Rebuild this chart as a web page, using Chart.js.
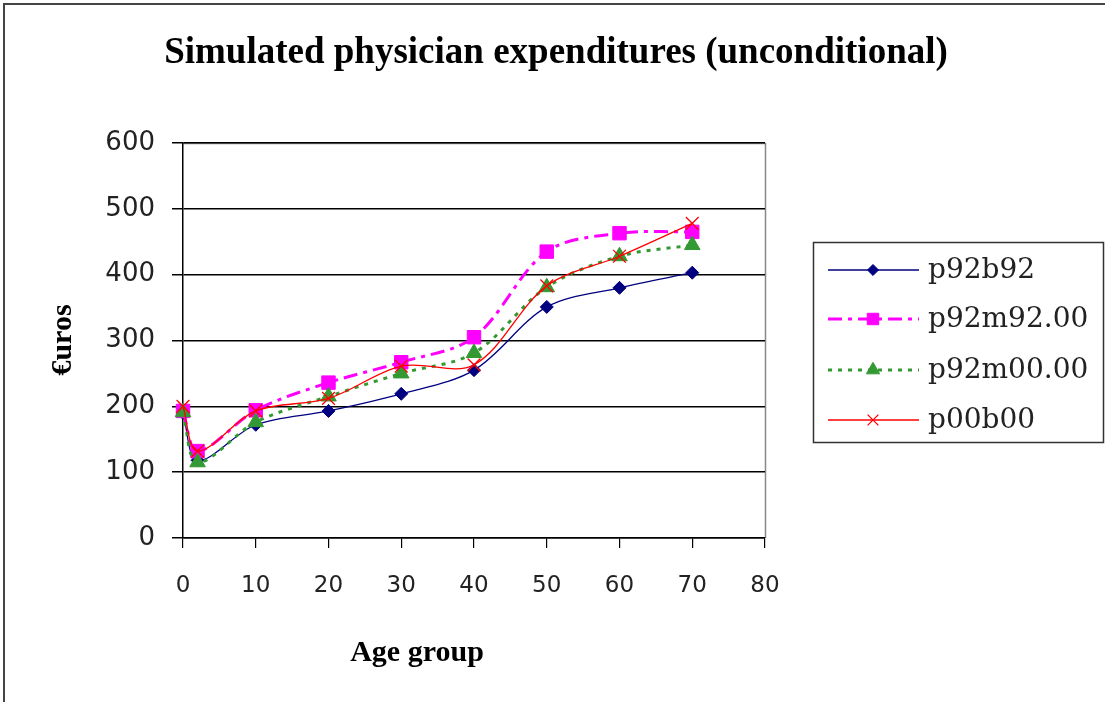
<!DOCTYPE html>
<html>
<head>
<meta charset="utf-8">
<script src="https://cdn.jsdelivr.net/npm/chart.js@4.4.1/dist/chart.umd.min.js"></script>
<style>
  html, body { margin: 0; padding: 0; background: #fff; }
  #wrap { width: 1105px; height: 702px; position: relative; }
</style>
</head>
<body>
<div id="wrap"><canvas id="c" width="1105" height="702"></canvas></div>
<script>
const ageGroups = [0, 2, 10, 20, 30, 40, 50, 60, 70];
const p92b92   = [190, 118, 172, 193, 219, 255, 351, 380, 403];
const p92m9200 = [193, 132, 194, 236, 267, 305, 435, 463, 465];
const p92m0000 = [191, 115, 176, 215, 250, 281, 381, 428, 445];
const p00b00   = [200, 132, 193, 212, 261, 263, 383, 428, 478];
const yTicks = [0, 100, 200, 300, 400, 500, 600];
const xTicks = [0, 10, 20, 30, 40, 50, 60, 70, 80];

const chartTitle = 'Simulated physician expenditures (unconditional)';
const xTitle = 'Age group';
const yTitle = '€uros';

function pts(vals) { return vals.map((v, i) => ({ x: ageGroups[i], y: v })); }

const series = [
  { label: 'p92b92',    data: p92b92,   color: '#000080', dash: [],            width: 1.3, style: 'rectRot',  radius: 6.5, order: 4 },
  { label: 'p92m92.00', data: p92m9200, color: '#FF00FF', dash: [14, 6, 4, 6], width: 3,   style: 'rect',     radius: 9.5, order: 3 },
  { label: 'p92m00.00', data: p92m0000, color: '#339933', dash: [4, 6],        width: 3,   style: 'triangle', radius: 9,   order: 2 },
  { label: 'p00b00',    data: p00b00,   color: '#FF0000', dash: [],            width: 1.3, style: 'crossRot', radius: 9,   order: 1 }
];

const decor = {
  id: 'decor',
  beforeDraw(chart) {
    const ctx = chart.ctx;
    ctx.save();
    ctx.fillStyle = '#fff';
    ctx.fillRect(0, 0, chart.width, chart.height);
    ctx.strokeStyle = '#444';
    ctx.lineWidth = 2;
    ctx.beginPath();
    ctx.moveTo(4, chart.height);
    ctx.lineTo(4, 4);
    ctx.lineTo(chart.width, 4);
    ctx.stroke();
    const a = chart.chartArea;
    ctx.strokeStyle = '#888';
    ctx.lineWidth = 1.5;
    ctx.beginPath();
    ctx.moveTo(a.left, a.top + 0.5);
    ctx.lineTo(a.right + 0.5, a.top + 0.5);
    ctx.lineTo(a.right + 0.5, a.bottom);
    ctx.stroke();
    ctx.restore();
  },
  afterDraw(chart) {
    const ctx = chart.ctx;
    ctx.save();
    ctx.fillStyle = '#000';
    ctx.textAlign = 'center';
    ctx.textBaseline = 'alphabetic';
    ctx.font = 'bold 37px "Liberation Serif"';
    ctx.fillText(chartTitle, 556, 63);
    ctx.font = 'bold 30px "Liberation Serif"';
    ctx.fillText(xTitle, 417, 661);
    ctx.save();
    ctx.translate(71, 340);
    ctx.rotate(-Math.PI / 2);
    ctx.fillText(yTitle, 0, 0);
    ctx.restore();

    // legend
    const bx = 813.5, by = 242.5, bw = 290, bh = 200;
    ctx.strokeStyle = '#333';
    ctx.lineWidth = 1.5;
    ctx.strokeRect(bx, by, bw, bh);
    const rows = [270, 319, 370, 420];
    ctx.textAlign = 'left';
    ctx.textBaseline = 'middle';
    ctx.font = '28px "DejaVu Serif"';
    series.forEach((s, i) => {
      const y = rows[i];
      ctx.save();
      ctx.strokeStyle = s.color;
      ctx.lineWidth = s.width;
      ctx.setLineDash(s.dash);
      ctx.beginPath();
      ctx.moveTo(828, y);
      ctx.lineTo(919, y);
      ctx.stroke();
      ctx.setLineDash([]);
      ctx.fillStyle = s.color; ctx.strokeStyle = s.color;
      ctx.lineWidth = s.style === 'crossRot' ? 1.3 : 1;
      Chart.helpers.drawPoint(ctx, { pointStyle: s.style, radius: s.radius * 0.85, rotation: 0, borderWidth: ctx.lineWidth }, 873, y);
      ctx.restore();
      ctx.fillStyle = '#222';
      ctx.fillText(s.label, 928, y + 1);
    });
    ctx.restore();
  }
};

new Chart(document.getElementById('c'), {
  type: 'line',
  data: {
    datasets: series.map(s => ({
      label: s.label,
      data: pts(s.data),
      borderColor: s.color,
      backgroundColor: s.color,
      borderWidth: s.width,
      borderDash: s.dash,
      pointStyle: s.style,
      pointRadius: s.radius,
      pointBorderWidth: s.style === 'crossRot' ? 1.3 : 1,
      pointBorderColor: s.color,
      pointBackgroundColor: s.color,
      tension: 0.33,
      fill: false,
      order: s.order,
      clip: false
    }))
  },
  options: {
    responsive: false,
    animation: false,
    events: [],
    layout: { padding: { top: 143, right: 340, bottom: 0, left: 0 } },
    plugins: { legend: { display: false }, title: { display: false }, tooltip: { enabled: false } },
    scales: {
      x: {
        type: 'linear', min: 0, max: 80,
        afterBuildTicks: sc => { sc.ticks = xTicks.map(v => ({ value: v })); },
        afterFit: sc => { sc.height = 164; },
        grid: { drawOnChartArea: false, color: '#000', tickLength: 10, lineWidth: 1.2 },
        border: { color: '#000', width: 1.5 },
        ticks: { color: '#222', font: { family: 'DejaVu Sans', size: 23 }, padding: 24, maxRotation: 0 }
      },
      y: {
        type: 'linear', min: 0, max: 600,
        afterBuildTicks: sc => { sc.ticks = yTicks.map(v => ({ value: v })); },
        afterFit: sc => { sc.width = 183; },
        grid: { color: '#000', tickLength: 11, lineWidth: 1.5 },
        border: { color: '#000', width: 1.5 },
        ticks: { color: '#222', font: { family: 'DejaVu Sans', size: 26 }, padding: 17 }
      }
    }
  },
  plugins: [decor]
});
</script>
</body>
</html>
